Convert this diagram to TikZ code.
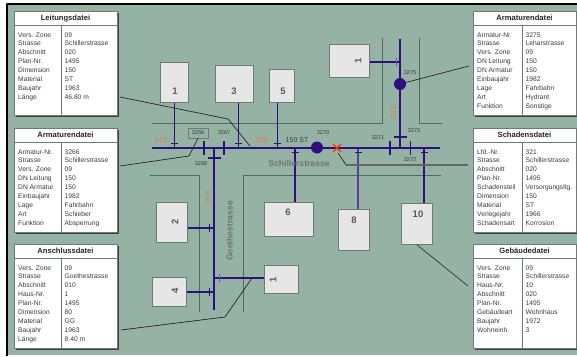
\documentclass[tikz,border=0pt]{standalone}
\usepackage{fontspec}
\setmainfont{Liberation Sans}
\definecolor{Karte}{HTML}{95B3A5}
\definecolor{Rohr}{HTML}{2F0F7C}
\definecolor{Strasse}{HTML}{56675F}
\definecolor{Kasten}{HTML}{E6E6E6}
\definecolor{Kante}{HTML}{6F7A75}
\definecolor{Abschn}{HTML}{E0784C}
\definecolor{Schrift}{HTML}{3C3C3C}
\tikzset{
  panelbox/.style={draw=Kante,fill=white,line width=0.5pt,anchor=north west,minimum width=103pt,minimum height=104pt,inner sep=0pt},
  paneltitle/.style={font=\fontsize{7.6}{9}\selectfont\bfseries,text=black!85,inner sep=0pt},
  rowtext/.style={font=\fontsize{6.7}{8}\selectfont,text=Schrift,anchor=base west,inner sep=0pt},
  hausbox/.style={draw=Kante,fill=Kasten,line width=0.8pt,anchor=north west,inner sep=0pt},
  hausnr/.style={font=\fontsize{9.5}{10}\selectfont\bfseries,text=black!65,inner sep=0pt},
  pipe/.style={draw=Rohr,line width=2pt},
  stem/.style={draw=Rohr,line width=1.1pt},
  tickmark/.style={draw=Rohr,line width=0.9pt},
  bar/.style={draw=Rohr,line width=1.6pt},
  street/.style={draw=Strasse,line width=0.6pt},
  leader/.style={draw=black!85,line width=0.7pt},
  nrlabel/.style={font=\fontsize{5.6}{6}\selectfont,text=Schrift,inner sep=0pt},
  abschnitt/.style={font=\fontsize{7.5}{8}\selectfont,text=Abschn,inner sep=0pt},
  strname/.style={font=\fontsize{8.6}{9}\selectfont\bfseries,text=black!55,inner sep=0pt},
}
% #1 name, #2/#3 top left corner, #4 column line, #5 title, #6 rows
\newcommand{\dateipanel}[6]{
  \fill[black!75] (#2+2,#3+2) rectangle (#2+105,#3+106);
  \node[panelbox] (#1) at (#2,#3) {};
  \begin{scope}[shift={(#2,#3)}]
    \draw[Kante,line width=0.6pt] (0,14.5) -- (103,14.5);
    \draw[Kante,line width=0.6pt] (#4,14.5) -- (#4,104);
    \node[paneltitle] (#1title) at (51.5,7.2) {#5};
    \foreach \k/\v [count=\i] in {#6}{
      \node[rowtext] at (4,{17.2+8.87*\i}) {\k};
      \node[rowtext] at (#4+3.5,{17.2+8.87*\i}) {\v};}
  \end{scope}
}

\begin{document}
\begin{tikzpicture}[x=1pt,y=-1pt,line join=round]
\useasboundingbox (0,0) rectangle (577,356);

% ---- background ----
\fill[white] (0,0) rectangle (577,356);
\fill[Karte] (7,4) rectangle (577,355);
\draw[black,line width=2pt] (7,356) -- (7,4) -- (577,4);

% ---- street edges ----
\draw[street] (152,123) -- (382,123) -- (382,38);
\draw[street] (419,38) -- (419,123) -- (442,123);
\draw[street] (150,175) -- (199,175) -- (199,312);
\draw[street] (243,312) -- (243,175) -- (441,175);

% ---- pipe junctions ----
\coordinate (j1) at (174.5,148);
\coordinate (j3) at (238.5,148);
\coordinate (j5) at (277.5,148);
\coordinate (j6) at (295,148);
\coordinate (j8) at (358,148);
\coordinate (j10) at (424,148);
\coordinate (g2) at (214,228);
\coordinate (g4) at (214,292);
\coordinate (g1) at (214,278);
\coordinate (a1) at (400,62);

% ---- houses ----
\foreach \n/\xa/\ya/\w/\h/\lx/\ly/\t/\r in {
  b1/160/62/28/40/175/91/1/0, b3/215/65/38/37/234/91/3/0, b5/269/69/25/33/283/91/5/0,
  b6/264/202/49/34/288/212/6/0, b8/338/209/31/41/354/220/8/0, b10/401/203/31/41/418/214/10/0,
  b2/156/202/31/40/175/222/2/90, b4/152/277/34/29/175/291/4/90,
  bg/264/265/34/28/273/280/1/90, ba/329/44/40/33/358/61/1/90}{
  \node[hausbox,minimum width=\w pt,minimum height=\h pt] (\n) at (\xa,\ya) {};
  \node[hausnr,rotate=\r] (\n nr) at (\lx,\ly) {\t};}

% ---- service pipes ----
\draw[stem] (j1 |- b1.south) -- (j1);
\draw[stem] (j3 |- b3.south) -- (j3);
\draw[stem] (j5 |- b5.south) -- (j5);
\draw[stem] (j6) -- (j6 |- b6.north);
\draw[stem,Rohr!80!white] (j8) -- (j8 |- b8.north);
\draw[stem] (j10) -- (j10 |- b10.north);
\draw[stem] (b2.east |- g2) -- (g2);
\draw[stem] (b4.east |- g4) -- (g4);
\draw[stem] (bg.west |- g1) -- (g1);
\draw[stem] (ba.east |- a1) -- (a1);

% ---- main pipes ----
\draw[pipe] (152,148) -- (440,148);
\draw[pipe,line width=2.6pt] (225,148) -- (345,148);
\draw[pipe] (214,148) -- (214,310);
\draw[pipe] (400,39) -- (400,148);
\node[circle,fill=Rohr,minimum size=12pt,inner sep=0pt] (n3270) at (317,147.5) {};
\node[circle,fill=Rohr,minimum size=12pt,inner sep=0pt] (n3275) at (400,84) {};

% ---- fittings ----
\foreach \x in {204,224,390,410.5}
  \draw[bar] (\x,141) -- (\x,155);
\draw[bar] (208,158) -- (221,158);
\draw[bar,line width=1.2pt] (394,137) -- (407,137);
\foreach \x in {174.5,238.5,277.5}
  \draw[tickmark] (\x-3.5,143.5) -- (\x+3.5,143.5);
\foreach \x in {295,358,424}
  \draw[tickmark] (\x-3.5,152) -- (\x+3.5,152);
\foreach \y in {228,292}
  \draw[tickmark] (209.5,\y-4) -- (209.5,\y+4);
\draw[tickmark,Rohr!70!white] (219,274) -- (219,282);
\draw[tickmark,Rohr!70!white] (396,58) -- (396,66);

% ---- damage ----
\coordinate (dmg) at (337,148);
\draw[red!60!orange,line width=1.2pt] (333,144) -- (341,152) (333,152) -- (341,144);

% ---- labels ----
\node[abschnitt] (s1) at (161,140) {010};
\node[abschnitt] (s2) at (262,140) {020};
\node[abschnitt,rotate=90] (s3) at (208,197) {010};
\node[abschnitt,rotate=90] (s4) at (393.5,112) {010};
\node[strname] (schiller) at (299,163) {Schillerstrasse};
\node[strname,rotate=90] (goethe) at (229.5,231) {Goethestrasse};
\node[font=\fontsize{7}{8}\selectfont,text=Schrift,inner sep=0pt] (dn) at (297,140) {150 ST};
\node[nrlabel,draw=Kante,minimum width=20pt,minimum height=10pt] (r3266) at (198,133) {3266};
\foreach \n/\x/\y in {3267/224/133,3268/201,3270/323/133}{}
\node[nrlabel] (r3267) at (224,133) {3267};
\node[nrlabel] (r3268) at (201,164) {3268};
\node[nrlabel] (r3270) at (323,133) {3270};
\node[nrlabel] (r3271) at (378,138) {3271};
\node[nrlabel] (r3272) at (410,160) {3272};
\node[nrlabel] (r3273) at (414,131) {3273};
\node[nrlabel] (r3275) at (410,73) {3275};

% ---- data sheets ----
\dateipanel{pleitung}{14}{11}{47}{Leitungsdatei}{Vers. Zone/09,Strasse/Schillerstrasse,Abschnitt/020,Plan-Nr./1495,Dimension/150,Material/ST,Baujahr/1963,Länge/46.80 m}
\dateipanel{parmlinks}{14}{128}{47}{Armaturendatei}{Armatur-Nr./3266,Strasse/Schillerstrasse,Vers. Zone/09,DN Leitung/150,DN Armatur/150,Einbaujahr/1982,Lage/Fahrbahn,Art/Schieber,Funktion/Absperrung}
\dateipanel{panschluss}{14}{244}{47}{Anschlussdatei}{Vers. Zone/09,Strasse/Goethestrasse,Abschnitt/010,Haus-Nr./1,Plan-Nr./1495,Dimension/80,Material/GG,Baujahr/1963,Länge/8.40 m}
\dateipanel{parmrechts}{473}{11}{49}{Armaturendatei}{Armatur-Nr./3275,Strasse/Leharstrasse,Vers. Zone/09,DN Leitung/150,DN Armatur/150,Einbaujahr/1982,Lage/Fahrbahn,Art/Hydrant,Funktion/Sonstige}
\dateipanel{pschaden}{473}{128}{49}{Schadensdatei}{Lfd.-Nr./321,Strasse/Schillerstrasse,Abschnitt/020,Plan-Nr./1495,Schadensteil/Versorgungsltg.,Dimension/150,Material/ST,Verlegejahr/1966,Schadensart/Korrosion}
\dateipanel{pgebaeude}{473}{244}{49}{Gebäudedatei}{Vers. Zone/09,Strasse/Schillerstrasse,Haus-Nr./10,Abschnitt/020,Plan-Nr./1495,Gebäudeart/Wohnhaus,Baujahr/1972,Wohneinh./3}

% ---- leaders ----
\coordinate (l1a) at (120,97);
\coordinate (l1b) at (228,119);
\coordinate (l1c) at (250,146);
\coordinate (l2a) at (120,166);
\coordinate (l2b) at (189,156);
\coordinate (l3a) at (121,330);
\coordinate (l3b) at (225,317);
\coordinate (l3c) at (252,278);
\coordinate (l4a) at (469,66);
\coordinate (l5a) at (468,286);
\coordinate (l6a) at (338,153);
\coordinate (l6b) at (346,165);
\coordinate (l6c) at (468,165);
\draw[leader] (l1a) -- (l1b) -- (l1c);
\draw[leader] (l2a) -- (l2b) -- (r3266.south);
\draw[leader] (l3a) -- (l3b) -- (l3c);
\draw[leader] (l4a) -- (n3275);
\draw[leader,line width=0.6pt] (b10.south) -- (l5a);
\draw[leader] (l6a) -- (l6b);
\draw[draw=black!60,line width=1.3pt] (l6b) -- (l6c);
\end{tikzpicture}
\end{document}
